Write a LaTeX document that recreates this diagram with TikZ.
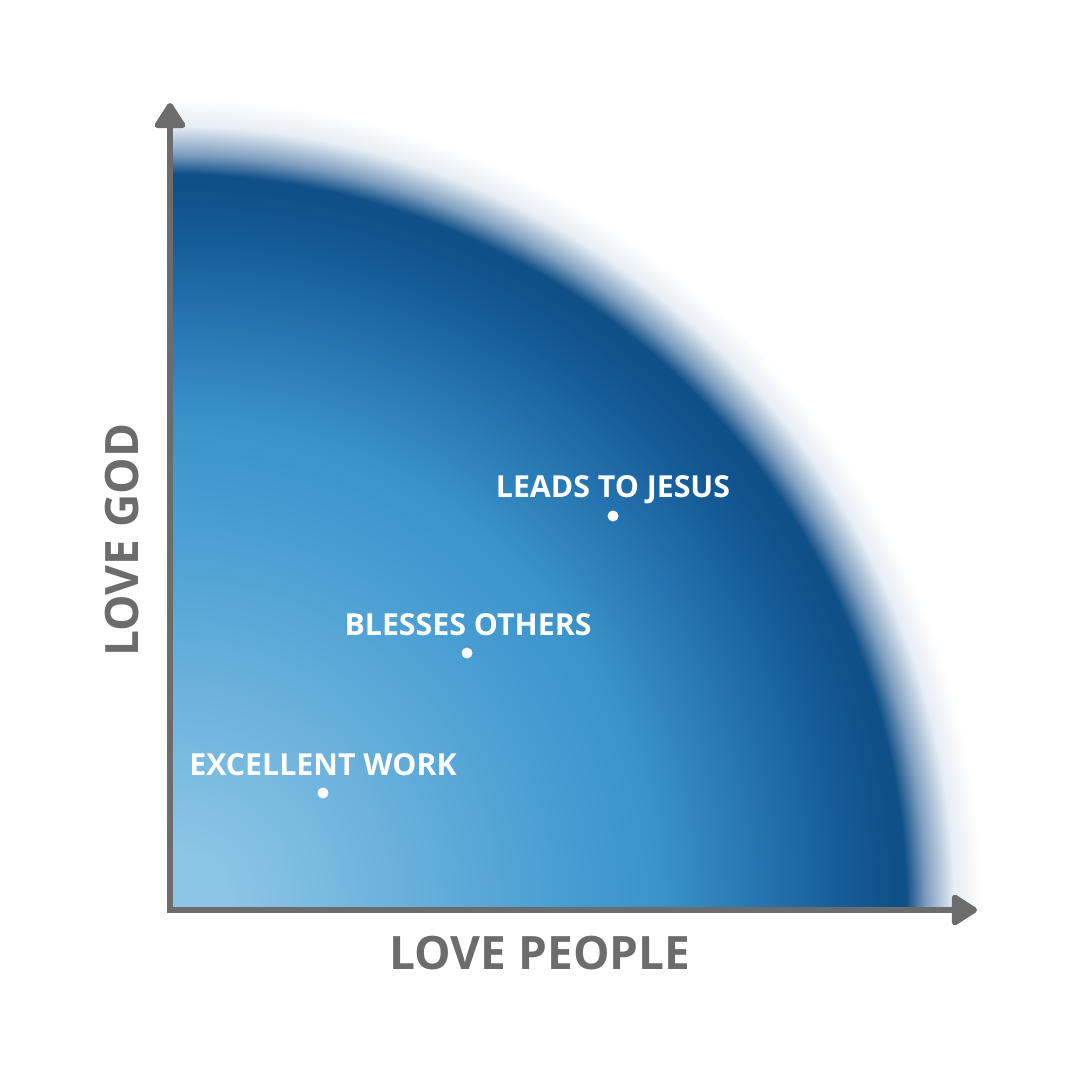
\documentclass[tikz,border=0pt]{standalone}
\usepackage{fontspec}
\setmainfont{Open Sans}
\usetikzlibrary{arrows.meta,calc}
\definecolor{axisgray}{HTML}{6C6C6C}
\definecolor{cA}{HTML}{8CC5E5}
\definecolor{cB}{HTML}{6CB2DC}
\definecolor{cC}{HTML}{4A9FD3}
\definecolor{cD}{HTML}{3B93CA}
\definecolor{cE}{HTML}{2471AE}
\definecolor{cF}{HTML}{145A95}
\definecolor{cG}{HTML}{0F5088}
\definecolor{cH}{HTML}{7F9FC0}
\definecolor{cI}{HTML}{E6EDF4}
\pgfdeclareradialshading{quarterglow}{\pgfpoint{0bp}{0bp}}{%
color(0bp)=(cA); color(1.5bp)=(cA); color(5.5bp)=(cB); color(9.5bp)=(cC);
color(12.25bp)=(cD); color(15bp)=(cE); color(17bp)=(cF); color(18.1bp)=(cG);
color(18.4bp)=(cG); color(18.9bp)=(cH); color(19.6bp)=(cI); color(20.3bp)=(white); color(50bp)=(white)}
\tikzset{
  axisline/.style={draw=axisgray, line width=6pt, -{Triangle[round, length=28pt, width=34pt]}},
  axislabel/.style={text=axisgray, font=\fontsize{46}{50}\selectfont\bfseries, inner sep=0pt},
  ptlabel/.style={text=white, font=\fontsize{30.3}{34}\selectfont\bfseries, inner sep=0pt, anchor=base},
  ptdot/.style={circle, fill=white, minimum size=11pt, inner sep=0pt}
}
\begin{document}
\begin{tikzpicture}[x=1pt,y=-1pt]
\useasboundingbox (0,0) rectangle (1080,1080);
\coordinate (o) at (170,910);
\begin{scope}
\clip (170,0) rectangle (1080,910);
\fill[shading=quarterglow] ($(o)+(-1000,-1000)$) rectangle ($(o)+(1000,1000)$);
\end{scope}
\coordinate (vstart) at (170,913);
\coordinate (vend) at (170,103);
\coordinate (hstart) at (167,910);
\coordinate (hend) at (977,910);
\draw[axisline] (vstart) -- (vend);
\draw[axisline] (hstart) -- (hend);
\node[axislabel, rotate=90] (ygod) at (122,540) {LOVE GOD};
\node[axislabel] (xpeople) at (540,953) {LOVE PEOPLE};
\node[ptdot] (d1) at (613,516) {};
\node[ptdot] (d2) at (467,653) {};
\node[ptdot] (d3) at (323,793) {};
\node[ptlabel] (l1) at (613,497) {LEADS TO JESUS};
\node[ptlabel] (l2) at (468,635) {BLESSES OTHERS};
\node[ptlabel] (l3) at (323,775) {EXCELLENT WORK};
\end{tikzpicture}
\end{document}
